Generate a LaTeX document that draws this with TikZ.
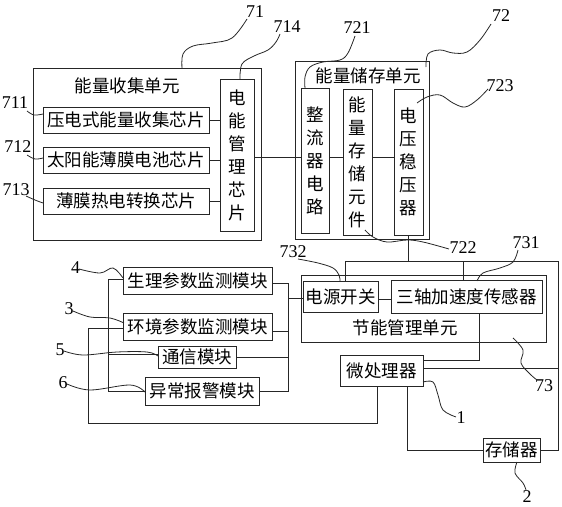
\documentclass[tikz,border=0pt]{standalone}
\usepackage{fontspec}
\setmainfont{Liberation Serif}
\newfontfamily\cjk{Noto Sans CJK SC}
\begin{document}
\begin{tikzpicture}[x=1pt,y=-1pt,
  box/.style={draw=black!85, line width=0.9pt, inner sep=0pt, align=center,
    font=\cjk\fontsize{17.5}{23}\selectfont},
  wire/.style={draw=black!85, line width=0.9pt},
  lead/.style={draw=black!85, line width=0.8pt},
  num/.style={inner sep=0pt, font=\fontsize{18}{18}\selectfont},
  ttl/.style={inner sep=0pt, font=\cjk\fontsize{17.5}{18}\selectfont}]
\useasboundingbox (0,0) rectangle (562,506);

% ---- energy collection unit 71
\node[box, minimum width=228pt, minimum height=172pt] (u71) at (147,154) {};
\node[ttl] (t71) at (127,86) {能量收集单元};
\node[box, minimum width=166pt, minimum height=26pt] (c711) at (126,120) {压电式能量收集芯片};
\node[box, minimum width=166pt, minimum height=26pt] (c712) at (126,160) {太阳能薄膜电池芯片};
\node[box, minimum width=166pt, minimum height=26pt] (c713) at (126,201) {薄膜热电转换芯片};
\node[box, minimum width=34pt, minimum height=152pt] (c714) at (237,155) {电\\能\\管\\理\\芯\\片};

% ---- energy storage unit 72
\node[box, minimum width=134pt, minimum height=178pt] (u72) at (362,150) {};
\node[ttl] (t72) at (368,76) {能量储存单元};
\node[box, minimum width=28pt, minimum height=145pt] (c721) at (315,160.5) {整\\流\\器\\电\\路};
\node[box, minimum width=29pt, minimum height=146pt] (c722) at (357.5,162) {能\\量\\存\\储\\元\\件};
\node[box, minimum width=29pt, minimum height=146pt] (c723) at (408.5,162) {电\\压\\稳\\压\\器};

% ---- energy-saving management unit 73
\node[box, minimum width=245pt, minimum height=67pt] (u73) at (423.5,308.5) {};
\node[ttl] (t73) at (405,328) {节能管理单元};
\node[box, minimum width=75pt, minimum height=31pt] (c732) at (340.5,296.5) {电源开关};
\node[box, minimum width=151pt, minimum height=33pt] (c731) at (466.5,296.5) {三轴加速度传感器};

% ---- processor, storage
\node[box, minimum width=83pt, minimum height=31pt] (mcu) at (381.5,370.5) {微处理器};
\node[box, minimum width=57pt, minimum height=24pt] (mem) at (511.5,450) {存储器};

% ---- modules
\node[box, minimum width=149pt, minimum height=27pt] (m4) at (197.5,280.5) {生理参数监测模块};
\node[box, minimum width=149pt, minimum height=27pt] (m3) at (197.5,326.5) {环境参数监测模块};
\node[box, minimum width=78pt, minimum height=22pt] (m5) at (197,357) {通信模块};
\node[box, minimum width=114pt, minimum height=28pt] (m6) at (202,391) {异常报警模块};

% ---- number labels
\node[num] (n71) at (255,12) {71};
\node[num] (n714) at (287,27) {714};
\node[num] (n721) at (357,28) {721};
\node[num] (n72) at (501,16) {72};
\node[num] (n723) at (500,86) {723};
\node[num] (n711) at (15,103) {711};
\node[num] (n712) at (18,147) {712};
\node[num] (n713) at (16,190) {713};
\node[num] (n722) at (463,248) {722};
\node[num] (n731) at (526,243) {731};
\node[num] (n732) at (293,252) {732};
\node[num] (n73) at (544,386) {73};
\node[num] (n1) at (461,418) {1};
\node[num] (n2) at (527,497) {2};
\node[num] (n4) at (75.5,268) {4};
\node[num] (n3) at (69,309) {3};
\node[num] (n5) at (60,350) {5};
\node[num] (n6) at (63,383) {6};

% ---- wires
\draw[wire] (c711.east) -- (c711.east -| c714.west);
\draw[wire] (c712.east) -- (c712.east -| c714.west);
\draw[wire] (c713.east) -- (c713.east -| c714.west);
\coordinate (p1) at ([yshift=-2pt]c714.east);
\draw[wire] (p1) -- (p1 -| c721.west);
\draw[wire] (p1 -| c721.east) -- (p1 -| c722.west);
\draw[wire] (p1 -| c722.east) -- (p1 -| c723.west);

\coordinate (R) at (558,261);
\draw[wire] (c723.south) -- (c723.south |- R);
\draw[wire] ([xshift=4.5pt]c732.north) |- (R) |- (mem.east);
\draw[wire] ([xshift=-3.5pt]c731.north) -- ([xshift=-3.5pt]c731.north |- R);
\draw[wire] ([yshift=-2.5pt]c732.east) -- ([yshift=-2.5pt]c732.east -| c731.west);
\draw[wire] ([xshift=12.5pt]c731.south) |- ([yshift=10.5pt]mcu.east);
\draw[wire] ([yshift=2.5pt]mcu.east) -- ([yshift=2.5pt]mcu.east -| R);
\coordinate (L) at (88,423);
\draw[wire] ([xshift=-4.5pt]mcu.south) |- (L) |- ([yshift=-1.5pt]m3.west);
\draw[wire] ([xshift=25.5pt]mcu.south) |- (mem.west);

\coordinate (LB) at (108,0);
\coordinate (RB) at (288,0);
\draw[wire] ([yshift=1.5pt]m4.west) -| (LB |- m6.west) -- (m6.west);
\draw[wire] ([yshift=3pt]m5.west) -- ([yshift=3pt]m5.west -| LB);
\draw[wire] ([yshift=-2.5pt]m4.east) -| (RB |- m6.east) -- (m6.east);
\draw[wire] ([yshift=-4.5pt]m3.east) -- ([yshift=-4.5pt]m3.east -| RB);
\draw[wire] (m5.east) -- (m5.east -| RB);
\draw[wire] ([yshift=-1.5pt]c732.west) -- ([yshift=-1.5pt]c732.west -| RB);

% ---- leader lines
\draw[lead] plot[smooth, tension=0.6] coordinates {(182,68) (183,54) (193,46) (212,43) (232,38) (247,19)};
\draw[lead] plot[smooth, tension=0.6] coordinates {(240,79) (242,64) (254,56) (268,50) (276,42) (280,34)};
\draw[lead] plot[smooth, tension=0.6] coordinates {(305,88) (305,77) (310,67) (323,62) (340,60) (348,53) (355,36)};
\draw[lead] plot[smooth, tension=0.6] coordinates {(426,67) (428,54) (440,50) (453,53) (467,52) (480,40) (491,24)};
\draw[lead] plot[smooth, tension=0.6] coordinates {(417,103) (427,97) (440,95) (453,103) (465,107) (477,100) (488,89)};
\draw[lead] plot[smooth, tension=0.6] coordinates {(365,230) (373,237) (387,242) (407,240) (423,242) (449,249)};
\draw[lead] plot[smooth, tension=0.6] coordinates {(27,111) (34,115) (43,114)};
\draw[lead] plot[smooth, tension=0.6] coordinates {(27,155) (35,159) (43,158)};
\draw[lead] plot[smooth, tension=0.6] coordinates {(26,196) (35,200) (43,203)};
\draw[lead] plot[smooth, tension=0.6] coordinates {(298,259) (318,263) (333,268) (339,275) (340,281)};
\draw[lead] plot[smooth, tension=0.6] coordinates {(518,250) (513,262) (500,268) (483,273) (477,281)};
\draw[lead] plot[smooth, tension=0.6] coordinates {(513,338) (523,350) (521,363) (530,374) (537,380)};
\draw[lead] plot[smooth, tension=0.6] coordinates {(423,382) (433,382) (438,395) (443,410) (456,417)};
\draw[lead] plot[smooth, tension=0.6] coordinates {(517,462) (515,473) (523,483) (526,490)};
\draw[lead] plot[smooth, tension=0.6] coordinates {(79,269) (100,273) (113,268) (123,278)};
\draw[lead] plot[smooth, tension=0.6] coordinates {(73,311) (90,317) (110,318) (124,323)};
\draw[lead] plot[smooth, tension=0.6] coordinates {(64,351) (83,355) (117,352) (147,352) (158,356)};
\draw[lead] plot[smooth, tension=0.6] coordinates {(67,384) (90,390) (130,385) (145,392)};
\end{tikzpicture}
\end{document}
